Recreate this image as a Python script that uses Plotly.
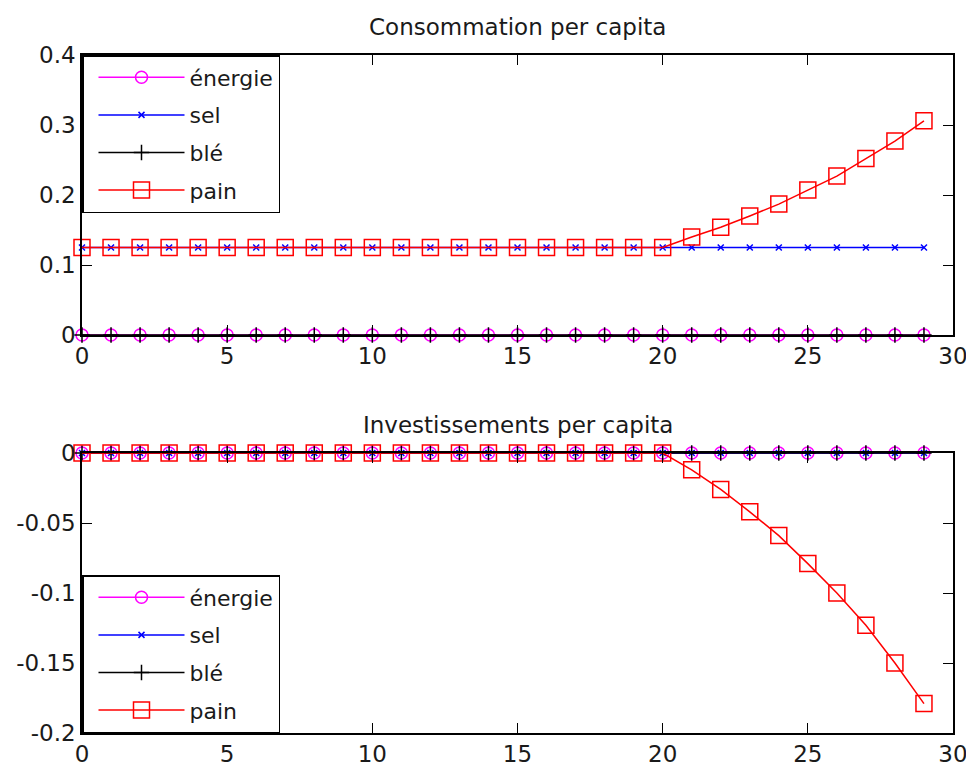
import plotly.graph_objects as go
from plotly.subplots import make_subplots

# ---- data ----
t = list(range(30))
series_names = ["énergie", "sel", "blé", "pain"]

cons_energie = [0.0] * 30
cons_sel = [0.125] * 30
cons_ble = [0.0] * 30
cons_pain = [0.125] * 21 + [0.140, 0.154, 0.170, 0.187, 0.207, 0.227, 0.252, 0.277, 0.306]

inv_energie = [0.0] * 30
inv_sel = [0.0] * 30
inv_ble = [0.0] * 30
inv_pain = [0.0] * 21 + [-0.012, -0.026, -0.042, -0.059, -0.079, -0.100, -0.123, -0.150, -0.179]

x_ticks = [0, 5, 10, 15, 20, 25, 30]
x_ticktext = ["0", "5", "10", "15", "20", "25", "30"]
top_yticks = [0, 0.1, 0.2, 0.3, 0.4]
top_yticktext = ["0", "0.1", "0.2", "0.3", "0.4"]
bot_yticks = [-0.2, -0.15, -0.1, -0.05, 0]
bot_yticktext = ["-0.2", "-0.15", "-0.1", "-0.05", "0"]

titles = ["Consommation per capita", "Investissements per capita"]

# ---- styles ----
FONT = "DejaVu Sans, sans-serif"
TXT = "#1a1a1a"
LW = 1.5
styles = [
    dict(color="#FF00FF", symbol="circle-open", size=12),
    dict(color="#0000FF", symbol="x-thin-open", size=6),
    dict(color="#000000", symbol="cross-thin-open", size=11),
    dict(color="#FF0000", symbol="square-open", size=16),
]

fig = make_subplots(rows=2, cols=1, vertical_spacing=118 / 678)

for row, data, leg in [(1, [cons_energie, cons_sel, cons_ble, cons_pain], "legend"),
                       (2, [inv_energie, inv_sel, inv_ble, inv_pain], "legend2")]:
    for name, ys, st in zip(series_names, data, styles):
        fig.add_trace(
            go.Scatter(
                x=t, y=ys, name=name, mode="lines+markers",
                line=dict(color=st["color"], width=LW),
                marker=dict(symbol=st["symbol"], size=st["size"], color=st["color"],
                            line=dict(color=st["color"], width=LW)),
                cliponaxis=False, legend=leg, legendgroup=f"{leg}_{name}",
            ),
            row=row, col=1,
        )

axis_common = dict(
    showline=True, linecolor="black", linewidth=1.5, mirror="ticks",
    ticks="inside", ticklen=10, tickwidth=1.3, tickcolor="black",
    showgrid=False, zeroline=False, automargin=False,
    tickfont=dict(family=FONT, size=23, color=TXT),
)

fig.update_xaxes(range=[0, 30], tickmode="array", tickvals=x_ticks, ticktext=x_ticktext, **axis_common)
fig.update_yaxes(range=[0, 0.4], tickmode="array", tickvals=top_yticks, ticktext=top_yticktext,
                 row=1, col=1, **axis_common)
fig.update_yaxes(range=[-0.2, 0], tickmode="array", tickvals=bot_yticks, ticktext=bot_yticktext,
                 row=2, col=1, **axis_common)

legend_common = dict(
    bgcolor="white", bordercolor="black", borderwidth=1.5,
    font=dict(family=FONT, size=22, color=TXT),
    itemwidth=86, indentation=10, traceorder="grouped", tracegroupgap=6,
    xanchor="left", x=0,
)

# the page body has an 8px default margin, so the figure is sized/offset to compensate
fig.update_layout(
    width=966, height=763,
    margin=dict(l=74, r=21, t=47, b=38, autoexpand=False),
    paper_bgcolor="white", plot_bgcolor="white",
    showlegend=True,
    legend=dict(yanchor="top", y=1, **legend_common),
    legend2=dict(yanchor="bottom", y=0, **legend_common),
    annotations=[
        dict(text=titles[0], x=0.5, y=1, xref="paper", yref="paper",
             xanchor="center", yanchor="bottom", yshift=13, showarrow=False,
             font=dict(family=FONT, size=23, color=TXT)),
        dict(text=titles[1], x=0.5, y=280 / 678, xref="paper", yref="paper",
             xanchor="center", yanchor="bottom", yshift=13, showarrow=False,
             font=dict(family=FONT, size=23, color=TXT)),
    ],
)

fig.write_html("out.html")
